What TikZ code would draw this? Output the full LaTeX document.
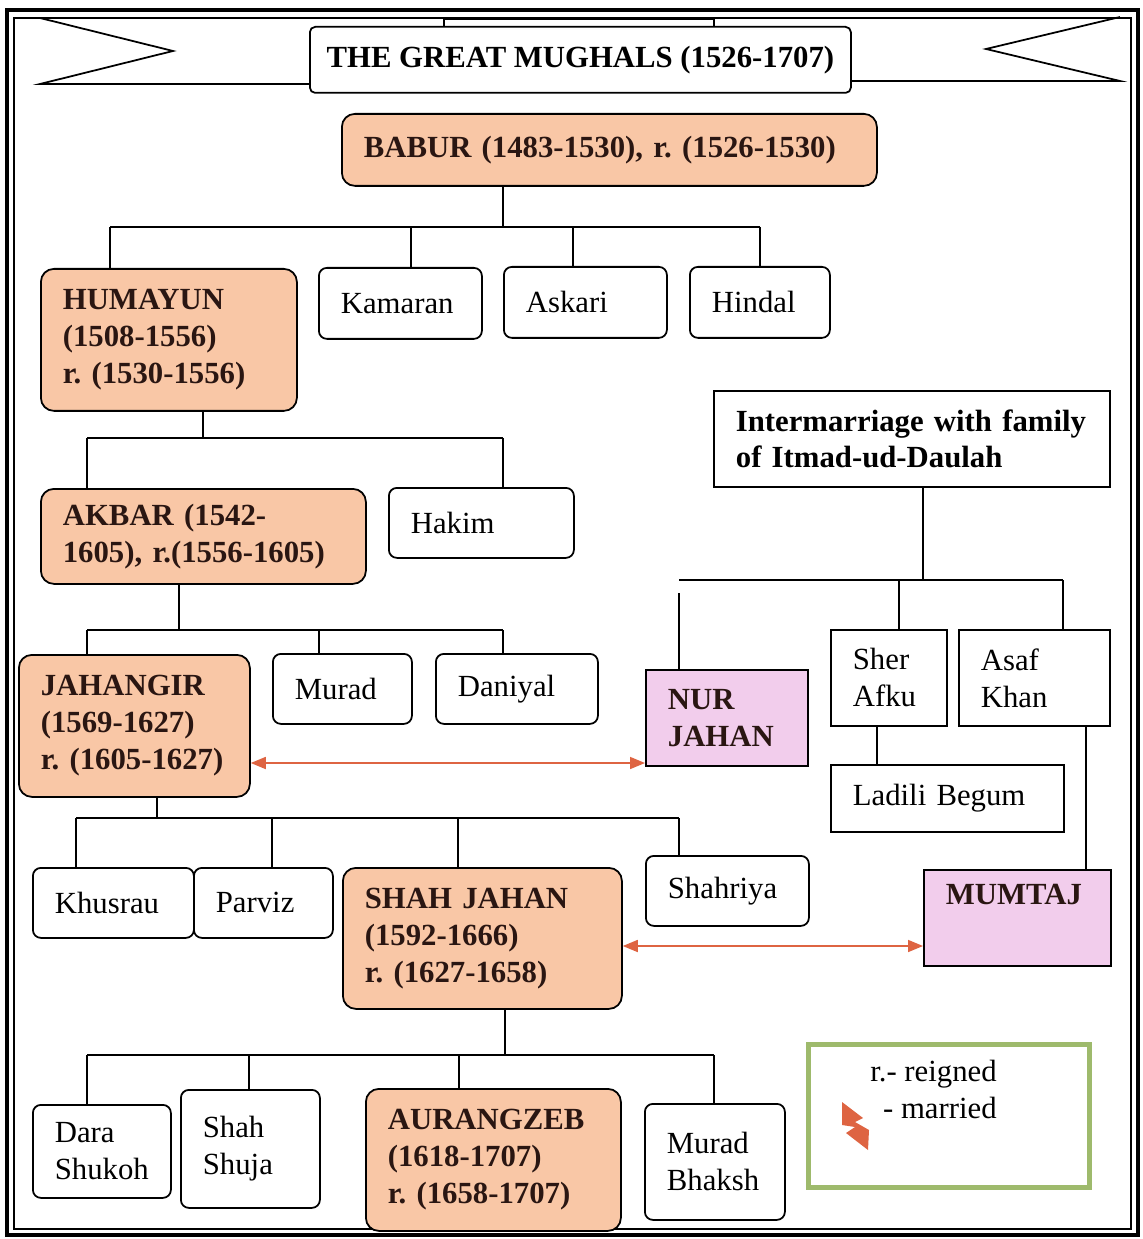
\documentclass[tikz,border=0pt]{standalone}
\usepackage{fontspec}
\setmainfont{Liberation Serif}
\usetikzlibrary{arrows.meta}

\definecolor{peach}{RGB}{249,199,166}
\definecolor{rose}{RGB}{242,205,236}
\definecolor{wedline}{RGB}{222,100,66}
\definecolor{keygreen}{RGB}{158,186,108}
\definecolor{ink}{RGB}{42,22,18}

\newcommand{\mugfont}{\fontsize{17.5}{21}\selectfont\hyphenpenalty=10000\exhyphenpenalty=10000}

\tikzset{
  sz/.code 2 args={%
    \pgfmathsetlengthmacro\boxtw{#1*0.02cm-0.88cm}%
    \pgfkeysalso{/tikz/minimum width=#1*0.02cm,/tikz/minimum height=#2*0.02cm,/tikz/text width=\boxtw}},
  kin/.style={draw, line width=1pt, anchor=north west, align=left,
    inner xsep=0.44cm, inner ysep=0pt, font=\mugfont},
  son/.style={kin, rounded corners=0.16cm},
  ruler/.style={kin, rounded corners=0.26cm, fill=peach, font=\mugfont\bfseries, text=ink},
  wife/.style={kin, fill=rose, font=\mugfont\bfseries, text=ink},
  link/.style={line width=1pt},
  wed/.style={<->, draw=wedline, line width=0.9pt}
}

\begin{document}
\begin{tikzpicture}[x=0.02cm,y=-0.02cm,>={Triangle[length=0.3cm,width=0.24cm]}]
  \useasboundingbox (0,0) rectangle (1142,1239);
  % 外框
  \draw[line width=2.8pt] (7,10) rectangle (1138,1235);
  \draw[line width=0.9pt] (14,18) rectangle (1131,1229);
  % 标题
  \draw[link] (309,84) -- (40,84) -- (173,51) -- (40,18);
  \draw[link] (850,81) -- (1120,81) -- (986,49) -- (1120,17);
  \draw[link,fill=white] (444,19) rectangle (714,27);
  \node[kin, fill=white, rounded corners=3pt, align=center, inner xsep=0.1cm,
    minimum width=541*0.02cm, minimum height=66*0.02cm, font=\mugfont\bfseries]
    (title) at (309,26) {THE GREAT MUGHALS (1526-1707)};

  % 巴布尔
  \node[ruler, sz={535}{72}] (babur) at (341,113) {BABUR (1483-1530), r.~(1526-1530)};
  \node[ruler, sz={256}{142}] (humayun) at (40,268) {HUMAYUN\\(1508-1556)\\r.~(1530-1556)};
  \node[son, sz={163}{71}] (kamaran) at (318,267) {Kamaran};
  \node[son, sz={163}{71}] (askari) at (503,266) {Askari};
  \node[son, sz={140}{71}] (hindal) at (689,266) {Hindal};
  \draw[link] (babur.south -| 503,0) -- (503,227);
  \draw[link] (110,227) -- (760,227);
  \foreach \n/\x in {humayun/110,kamaran/411,askari/573,hindal/760}
    \draw[link] (\x,227) -- (\n.north -| \x,0);

  % 胡马雍
  \node[ruler, sz={325}{95}] (akbar) at (40,488) {AKBAR (1542-\\1605), r.(1556-1605)};
  \node[son, sz={185}{70}] (hakim) at (388,487) {Hakim};
  \draw[link] (humayun.south -| 203,0) -- (203,438);
  \draw[link] (87,438) -- (503,438);
  \foreach \n/\x in {akbar/87,hakim/503}
    \draw[link] (\x,438) -- (\n.north -| \x,0);

  % 阿克巴
  \node[ruler, sz={231}{142}] (jahangir) at (18,654) {JAHANGIR\\(1569-1627)\\r.~(1605-1627)};
  \node[son, sz={139}{70}] (murad) at (272,653) {Murad};
  \node[son, sz={162}{70}] (daniyal) at (435,653) {Daniyal};
  \draw[link] (akbar.south -| 179,0) -- (179,630);
  \draw[link] (87,630) -- (503,630);
  \foreach \n/\x in {jahangir/87,murad/319,daniyal/503}
    \draw[link] (\x,630) -- (\n.north -| \x,0);

  % 伊蒂马德家族
  \node[kin, sz={396}{96}, font=\mugfont\bfseries] (itmad) at (713,390)
    {Intermarriage~with~family\\of Itmad-ud-Daulah};
  \node[wife, sz={162}{96}] (nurjahan) at (645,669) {NUR\\JAHAN};
  \node[kin, sz={116}{96}] (sherafku) at (830,629) {Sher\\Afku};
  \node[kin, sz={151}{96}] (asaf) at (958,629) {Asaf\\Khan};
  \node[kin, sz={233}{67}] (ladili) at (830,764) {Ladili Begum};
  \node[wife, sz={187}{96}] (mumtaj) at (923,869) {MUMTAJ\\\strut};
  \draw[link] (itmad.south -| 923,0) -- (923,580);
  \draw[link] (679,580) -- (1063,580);
  \draw[link] (679,593) -- (nurjahan.north -| 679,0);
  \foreach \n/\x in {sherafku/899,asaf/1063}
    \draw[link] (\x,580) -- (\n.north -| \x,0);
  \draw[link] (sherafku.south -| 877,0) -- (ladili.north -| 877,0);
  \draw[link] (asaf.south -| 1086,0) -- (mumtaj.north -| 1086,0);

  % 贾汉吉尔
  \node[son, sz={161}{70}] (khusrau) at (32,867) {Khusrau};
  \node[son, sz={139}{70}] (parviz) at (193,867) {Parviz};
  \node[ruler, sz={279}{141}] (shahjahan) at (342,867) {SHAH JAHAN\\(1592-1666)\\r.~(1627-1658)};
  \node[son, sz={163}{70}] (shahriya) at (645,855) {Shahriya};
  \draw[link] (jahangir.south -| 157,0) -- (157,818);
  \draw[link] (76,818) -- (679,818);
  \foreach \n/\x in {khusrau/76,parviz/272,shahjahan/458,shahriya/679}
    \draw[link] (\x,818) -- (\n.north -| \x,0);

  % 沙贾汗
  \node[son, sz={138}{93}] (dara) at (32,1104) {Dara\\Shukoh};
  \node[son, sz={139}{118}] (shuja) at (180,1089) {Shah\\Shuja};
  \node[ruler, sz={255}{142}] (aurangzeb) at (365,1088) {AURANGZEB\\(1618-1707)\\r.~(1658-1707)};
  \node[son, sz={140}{116}] (bhaksh) at (644,1103) {Murad\\Bhaksh};
  \draw[link] (shahjahan.south -| 505,0) -- (505,1055);
  \draw[link] (87,1055) -- (714,1055);
  \foreach \n/\x in {dara/87,shuja/249,aurangzeb/459,bhaksh/714}
    \draw[link] (\x,1055) -- (\n.north -| \x,0);

  % 婚姻
  \draw[wed] (jahangir.east |- 0,763) -- (nurjahan.west |- 0,763);
  \draw[wed] (shahjahan.east |- 0,946) -- (mumtaj.west |- 0,946);

  % 图例
  \node[draw=keygreen, line width=3pt, anchor=north west, minimum width=281*0.02cm,
    minimum height=143*0.02cm] (key) at (806,1042) {};
  \node[anchor=north east, align=right, inner sep=0pt, font=\mugfont] (keytext) at (997,1060)
    {r.- reigned\\- married};
  \fill[wedline] (842,1102) -- (863,1118) -- (855,1122) -- (869,1130) -- (868,1150)
    -- (846,1133) -- (855,1127) -- (842,1125) -- cycle;
\end{tikzpicture}
\end{document}
